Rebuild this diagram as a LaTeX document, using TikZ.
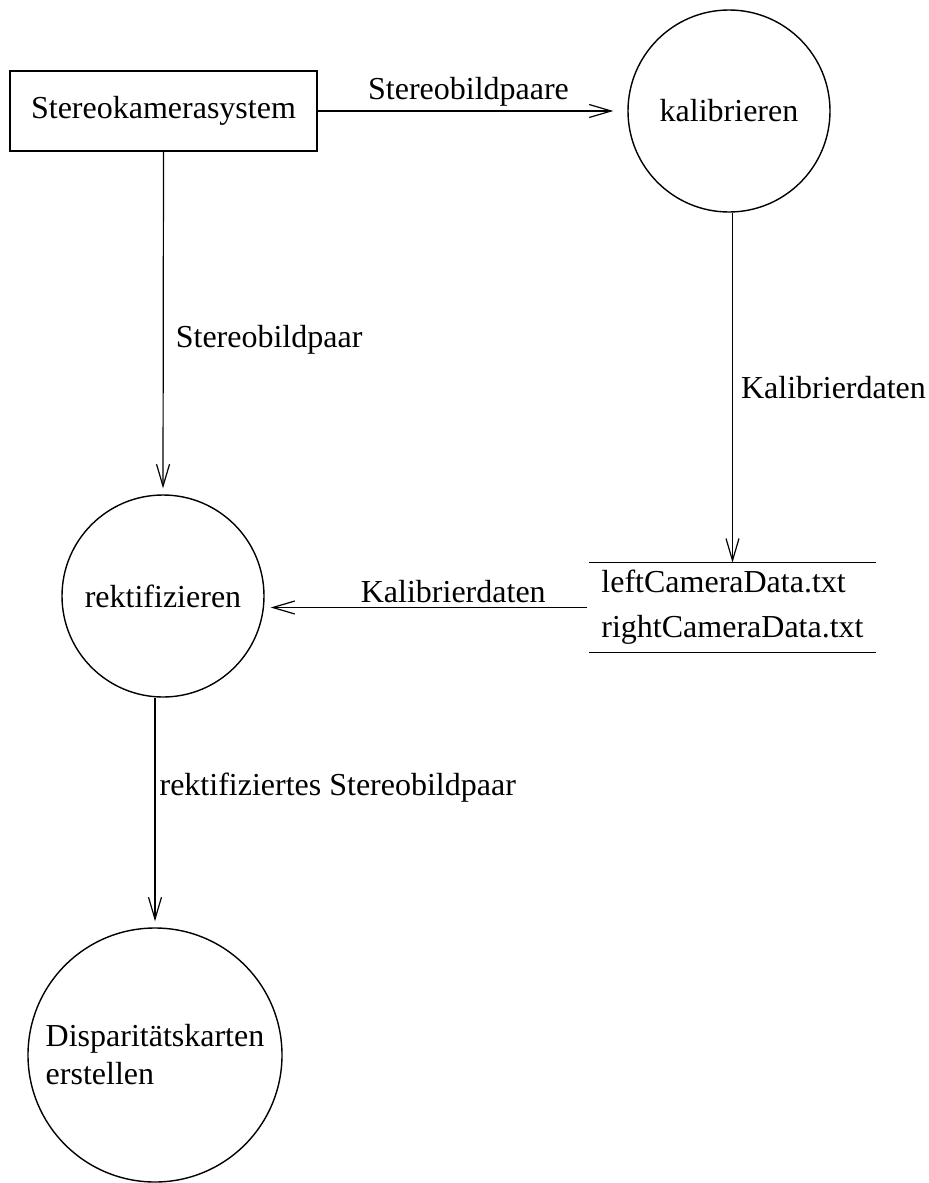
\documentclass[tikz,border=0pt]{standalone}
\usepackage{fontspec}
\setmainfont{Liberation Serif}
\usetikzlibrary{arrows.meta}

\tikzset{
  procbox/.style={draw, line width=0.7pt, minimum width=153.5pt, minimum height=40pt, inner sep=0pt},
  process/.style={draw, circle, line width=0.7pt, minimum size=101pt, inner sep=0pt},
  bigprocess/.style={process, minimum size=127pt, align=left, font=\fontsize{16pt}{19pt}\selectfont},
  datastore/.style={minimum width=140.5pt, minimum height=44.5pt, inner xsep=6pt, align=left},
  flow/.style={line width=0.6pt, -{Straight Barb[length=11pt, width=6.5pt, line width=0.6pt]}, shorten >=3pt},
  flowlabel/.style={inner sep=2pt}
}

\begin{document}
\begin{tikzpicture}[x=0.5pt, y=-0.5pt, font=\fontsize{16pt}{22.5pt}\selectfont]
    % Bounding box of the page
    \useasboundingbox (0,0) rectangle (928,1183);

    % Terminator and processes
    \node[procbox] (kamera) at (163.5,111) {Stereokamerasystem};
    \node[process] (kalib) at (729,111) {kalibrieren};
    \node[process] (rekt) at (163,596) {rektifizieren};
    \node[bigprocess] (disp) at (155,1055) {Disparitätskarten\\erstellen};

    % Data store with its two lines
    \node[datastore] (daten) at (732.5,607.5) {leftCameraData.txt\\rightCameraData.txt};
    \draw[line width=0.6pt] (daten.north west) -- (daten.north east);
    \draw[line width=0.6pt] (daten.south west) -- (daten.south east);

    % Data flows
    \draw[flow, shorten >=7pt] (kamera.east) -- (kalib.west)
        node[flowlabel, above, midway, xshift=-2pt] {Stereobildpaare};
    \draw[flow] (kamera.south) -- (rekt.north)
        node[flowlabel, right, pos=0.55, xshift=4pt] {Stereobildpaar};
    \draw[flow, shorten >=0pt] (kalib.south -| daten.north) -- (daten.north)
        node[flowlabel, right, pos=0.5, xshift=2pt] {Kalibrierdaten};
    \draw[flow] ([xshift=-1pt]daten.west) -- (rekt.east |- daten.west)
        node[flowlabel, above, pos=0.415] {Kalibrierdaten};
    \draw[flow] (disp.north |- rekt.south) -- (disp.north)
        node[flowlabel, right, pos=0.39] {rektifiziertes Stereobildpaar};
\end{tikzpicture}
\end{document}
